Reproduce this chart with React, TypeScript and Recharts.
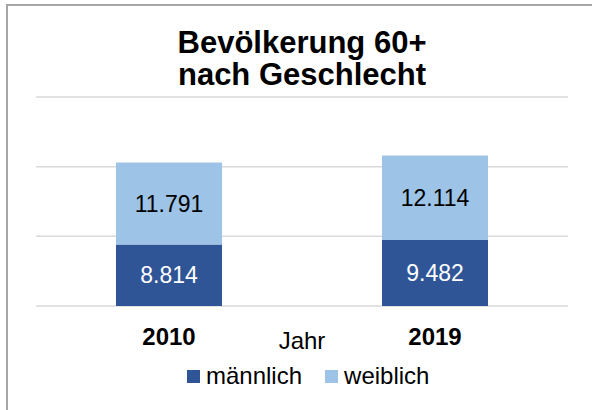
import React from "react";
import { BarChart, Bar, XAxis, YAxis, CartesianGrid, LabelList } from "recharts";

// Bevölkerung 60+ nach Geschlecht
const years = ["2010", "2019"];
const maennlich = [8814, 9482];
const weiblich = [11791, 12114];
const yTicks = [0, 10000, 20000, 30000];

const DARK = "#2F5597";
const LIGHT = "#9DC3E6";
const FONT = "'Liberation Sans', Arial, Helvetica, sans-serif";

const chartData = years.map((jahr, i) => ({
  jahr,
  maennlich: maennlich[i],
  weiblich: weiblich[i],
}));

// German thousands separator: 8814 -> "8.814"
const fmt = (v: any) => String(v).replace(/\B(?=(\d{3})+(?!\d))/g, ".");

const YearTick = ({ x, y, payload }: any) => (
  <text
    x={x}
    y={y + 37}
    textAnchor="middle"
    fontFamily={FONT}
    fontWeight="bold"
    fontSize={24}
    fill="#000"
  >
    {payload.value}
  </text>
);

const AxisTitle = ({ viewBox }: any) => (
  <text
    x={viewBox.x + viewBox.width / 2}
    y={viewBox.y + 43}
    textAnchor="middle"
    fontFamily={FONT}
    fontSize={24}
    fill="#000"
  >
    Jahr
  </text>
);

const LegendItem = ({ color, text }: { color: string; text: string }) => (
  <div style={{ display: "flex", alignItems: "center", marginRight: 23 }}>
    <div style={{ width: 13, height: 13, background: color, marginRight: 6 }} />
    <span>{text}</span>
  </div>
);

export default function App() {
  return (
    <div
      style={{
        position: "absolute",
        left: 0,
        top: 0,
        width: 592,
        height: 410,
        overflow: "hidden",
        background: "#fff",
        fontFamily: FONT,
      }}
    >
      {/* chart frame, cropped at right/bottom */}
      <div
        style={{
          position: "absolute",
          left: 6,
          top: 4,
          width: 620,
          height: 440,
          border: "2px solid #a6a6a6",
        }}
      />
      <div
        style={{
          position: "absolute",
          left: 0,
          top: 27,
          width: 604,
          textAlign: "center",
          fontWeight: "bold",
          fontSize: 31,
          lineHeight: "32px",
          color: "#000",
        }}
      >
        Bevölkerung 60+
        <br />
        nach Geschlecht
      </div>

      <div style={{ position: "absolute", left: 0, top: 0 }}>
        <BarChart
          width={592}
          height={360}
          data={chartData}
          margin={{ top: 97, right: 24, bottom: 0, left: 36 }}
          barSize={106}
        >
          <CartesianGrid vertical={false} stroke="#d9d9d9" strokeWidth={1.5} />
          <YAxis hide domain={[0, 30000]} ticks={yTicks} />
          <XAxis
            dataKey="jahr"
            axisLine={false}
            tickLine={false}
            tickSize={0}
            height={54}
            tick={<YearTick />}
            label={<AxisTitle />}
            interval={0}
          />
          <Bar dataKey="maennlich" stackId="a" fill={DARK} isAnimationActive={false}>
            <LabelList
              dataKey="maennlich"
              position="center"
              formatter={fmt}
              fill="#fff"
              fontSize={23}
              fontFamily={FONT}
            />
          </Bar>
          <Bar dataKey="weiblich" stackId="a" fill={LIGHT} isAnimationActive={false}>
            <LabelList
              dataKey="weiblich"
              position="center"
              formatter={fmt}
              fill="#000"
              fontSize={23}
              fontFamily={FONT}
            />
          </Bar>
        </BarChart>
      </div>

      <div
        style={{
          position: "absolute",
          left: 187,
          top: 362,
          display: "flex",
          fontSize: 24,
          lineHeight: "28px",
          color: "#000",
        }}
      >
        <LegendItem color={DARK} text="männlich" />
        <LegendItem color={LIGHT} text="weiblich" />
      </div>
    </div>
  );
}
